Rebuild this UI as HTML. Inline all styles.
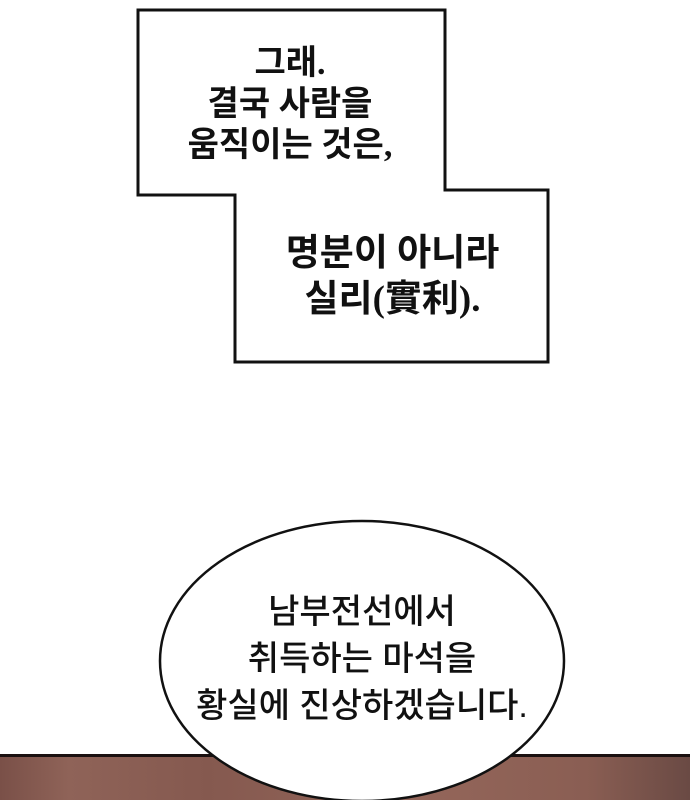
<!DOCTYPE html>
<html><head><meta charset="utf-8"><style>
html,body{margin:0;padding:0;}
body{width:690px;height:800px;position:relative;overflow:hidden;background:#fff;}
.t{position:absolute;text-align:center;white-space:nowrap;color:#111;}
.serif{font-family:"Liberation Serif","Noto Sans CJK KR",serif;font-weight:bold;}
.sans{font-family:"Liberation Sans","Noto Sans CJK KR",sans-serif;font-weight:500;}
</style></head><body>
<svg width="690" height="800" style="position:absolute;left:0;top:0">
<defs><linearGradient id="br" x1="0" x2="1">
<stop offset="0" stop-color="#7a5048"/><stop offset="0.1" stop-color="#8f6358"/><stop offset="0.3" stop-color="#85594f"/><stop offset="0.6" stop-color="#94665a"/><stop offset="0.85" stop-color="#8a5e53"/><stop offset="1" stop-color="#6a4a44"/></linearGradient></defs>
<rect x="0" y="757" width="690" height="43" fill="url(#br)"/>
<rect x="0" y="754" width="690" height="3" fill="#1a1010"/>
<ellipse cx="362" cy="661" rx="202" ry="140" fill="#fff" stroke="#111" stroke-width="2.5"/>
<polygon points="138,10 445,10 445,190 548,190 548,362 235,362 235,195 138,195" fill="#fff" stroke="#111" stroke-width="3"/>
</svg>
<div class="t serif" style="left:140px;width:300px;top:43px;font-size:34px;line-height:41px;">그래.<br>결국 사람을<br>움직이는 것은,</div>
<div class="t serif" style="left:240px;width:305px;top:231px;font-size:37px;line-height:46px;">명분이 아니라<br>실리(實利).</div>
<div class="t sans" style="left:112px;width:500px;top:589px;font-size:34px;line-height:47px;">남부전선에서<br>취득하는 마석을<br>황실에 진상하겠습니다.</div>
</body></html>
